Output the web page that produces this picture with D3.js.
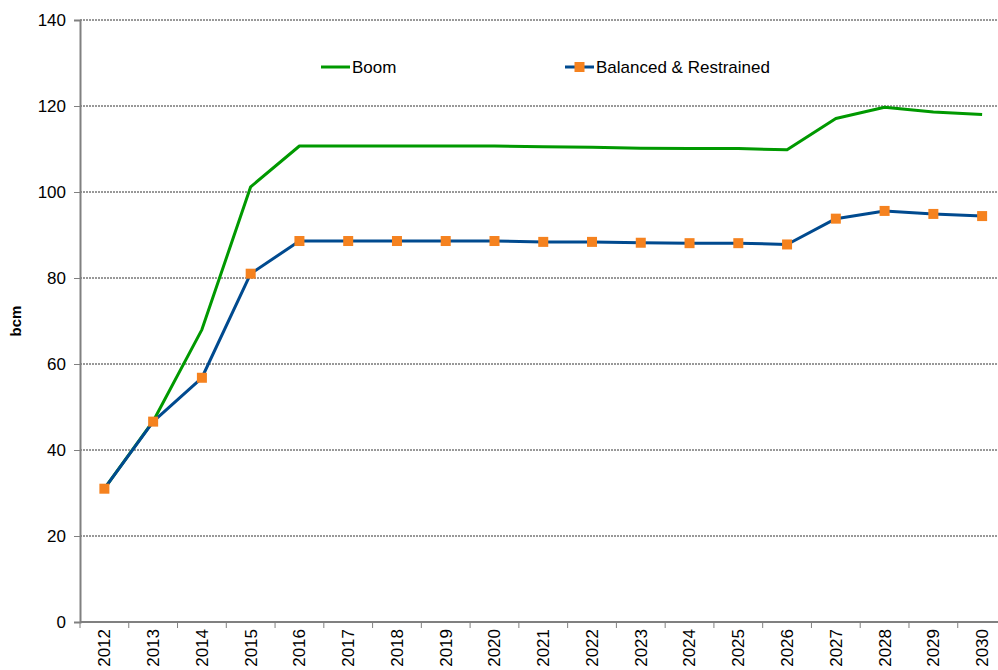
<!DOCTYPE html>
<html><head><meta charset="utf-8">
<script src="https://cdn.jsdelivr.net/npm/d3@7"></script>
<style>body{margin:0;background:#fff}svg{display:block;font-family:"Liberation Sans",Arial,sans-serif}</style>
</head><body>
<svg id="c" width="998" height="670"></svg>
<script>
const years = ["2012","2013","2014","2015","2016","2017","2018","2019","2020","2021","2022","2023","2024","2025","2026","2027","2028","2029","2030"];
const boom = [31,46.7,68,101.2,110.7,110.7,110.7,110.7,110.7,110.5,110.4,110.2,110.1,110.1,109.8,117.1,119.7,118.6,118];
const balanced = [31,46.6,56.8,81,88.6,88.6,88.6,88.6,88.6,88.4,88.4,88.2,88.1,88.1,87.8,93.8,95.6,94.9,94.4];
const yTicks = [0,20,40,60,80,100,120,140];
const seriesNames = ["Boom","Balanced & Restrained"];

const svg = d3.select("#c");
const L = 80, R = 1006.5, T = 20, B = 622;
const FS = 17;
const x = d3.scaleBand().domain(years).range([L, R]);
const y = d3.scaleLinear().domain([0,140]).range([B, T]);

// gridlines
svg.append("g").selectAll("line").data(yTicks.filter(d=>d>0)).join("line")
  .attr("x1", L).attr("x2", 998).attr("y1", d=>y(d)).attr("y2", d=>y(d))
  .attr("stroke", "#333").attr("stroke-width", 1).attr("stroke-dasharray", "2,1");

// y axis
const ya = svg.append("g").attr("transform", `translate(${L},0)`)
  .call(d3.axisLeft(y).tickValues(yTicks).tickSize(6).tickPadding(8));
ya.select(".domain").attr("stroke", "#808080").attr("stroke-width", 2);
ya.selectAll(".tick line").attr("stroke", "#808080").attr("stroke-width", 1);
ya.selectAll("text").attr("font-size", FS).attr("fill", "#000").attr("font-family", "Liberation Sans, Arial, sans-serif");

// x axis
const xa = svg.append("g").attr("transform", `translate(0,${B})`)
  .call(d3.axisBottom(x).tickSize(0).tickPadding(0));
xa.select(".domain").remove();
svg.append("line").attr("x1", L).attr("x2", 998).attr("y1", B).attr("y2", B).attr("stroke", "#808080").attr("stroke-width", 2);
svg.append("g").selectAll("line").data(years).join("line")
  .attr("x1", d=>x(d)).attr("x2", d=>x(d)).attr("y1", B).attr("y2", B+6)
  .attr("stroke", "#808080").attr("stroke-width", 1);
xa.selectAll("text")
  .attr("font-size", FS).attr("fill", "#000").attr("font-family", "Liberation Sans, Arial, sans-serif")
  .attr("transform", "rotate(-90)")
  .attr("text-anchor", "end")
  .attr("x", -7).attr("y", 0).attr("dy", "0.35em");

// y title
svg.append("text").attr("transform", `translate(21,${(T+B)/2}) rotate(-90)`)
  .attr("text-anchor", "middle").attr("font-size", 15).attr("font-weight", "bold").text("bcm");

const cx = d => x(d) + x.bandwidth()/2;
const line = d3.line().x((d,i)=>cx(years[i])).y(d=>y(d));

svg.append("path").datum(boom).attr("d", line).attr("fill","none").attr("stroke","#009900").attr("stroke-width",3).attr("stroke-linejoin","round");
svg.append("path").datum(balanced).attr("d", line).attr("fill","none").attr("stroke","#004A8F").attr("stroke-width",3).attr("stroke-linejoin","round");
svg.append("g").selectAll("rect").data(balanced).join("rect")
  .attr("x",(d,i)=>cx(years[i])-5).attr("y",d=>y(d)-5).attr("width",10).attr("height",10).attr("fill","#F5821F");

// legend
const lg = svg.append("g");
lg.append("line").attr("x1",321).attr("x2",350).attr("y1",67).attr("y2",67).attr("stroke","#009900").attr("stroke-width",3);
lg.append("text").attr("x",352).attr("y",67).attr("dy","0.35em").attr("font-size",FS).text(seriesNames[0]);
lg.append("line").attr("x1",565).attr("x2",594).attr("y1",67).attr("y2",67).attr("stroke","#004A8F").attr("stroke-width",3);
lg.append("rect").attr("x",574.5).attr("y",62).attr("width",10).attr("height",10).attr("fill","#F5821F");
lg.append("text").attr("x",596).attr("y",67).attr("dy","0.35em").attr("font-size",FS).text(seriesNames[1]);
</script>
</body></html>
